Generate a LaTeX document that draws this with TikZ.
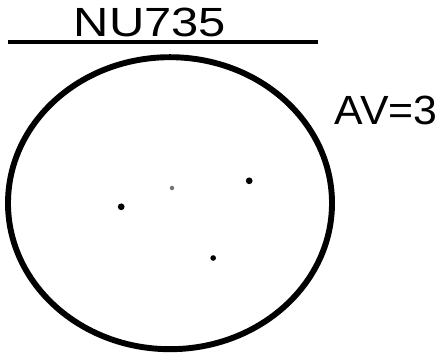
\documentclass[tikz,border=0pt]{standalone}
\usepackage{fontspec}
\setmainfont{Liberation Sans}
\usepackage{tikz}

\begin{document}
\begin{tikzpicture}[font=\fontsize{29}{30}\selectfont]

\useasboundingbox (0,0) rectangle (11,9.1);

\coordinate (Ul) at (0.2,  8.05);
\coordinate (Ur) at (7.95, 8.05);
\coordinate (Oc) at (4.25, 4.02);

%-- heading with underline
\node[inner sep=0pt, xscale=1.2] (Title) at (3.75,8.55) {NU735};
\draw[black, line width=2.6pt] (Ul)--(Ur);

%-- field of view
\draw[black, line width=4.2pt] (Oc) ellipse [x radius=4.05, y radius=3.65];

\node[inner sep=0pt, xscale=1.05] (Avg) at (9.65,6.33) {AV=3};

%-- objects in the field
\foreach \p/\r in {{(3.03,3.93)}/2.4pt, {(6.23,4.58)}/2.4pt, {(5.33,2.65)}/2pt}
  \fill \p circle (\r);
\fill[black!55] (4.3,4.4) circle (1.6pt);

\end{tikzpicture}
\end{document}
